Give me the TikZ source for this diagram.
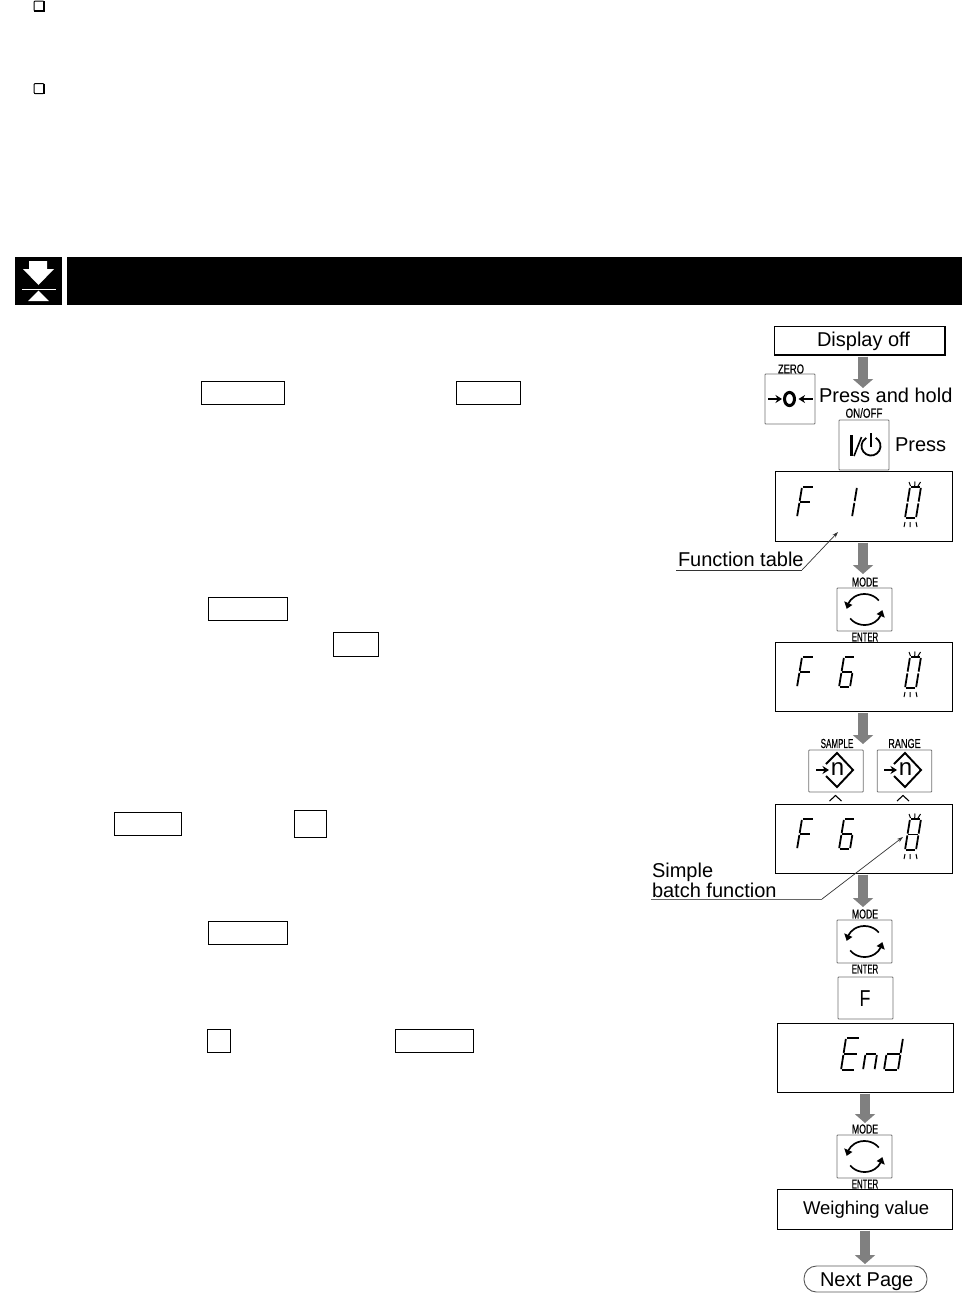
\documentclass[tikz,border=0pt]{standalone}
\usepackage{fontspec}
\setmainfont{Liberation Sans}
\newfontfamily\labfont[FakeBold=0.6]{Liberation Sans}
\usetikzlibrary{arrows.meta,calc,bending}
\tikzset{
  emptybox/.style={draw=black,line width=1pt,fill=white,inner sep=0pt,outer sep=0pt},
  dispbox/.style={draw=black,line width=1pt,fill=white,inner sep=0pt,outer sep=0pt,minimum width=177pt,minimum height=69pt},
  keybox/.style={draw=black!55,line width=.9pt,fill=white,rounded corners=.8pt,inner sep=0pt,outer sep=0pt},
  modekey/.style={keybox,minimum width=55pt,minimum height=43pt},
  nkey/.style={keybox,minimum width=54.5pt,minimum height=42pt},
  pwrkey/.style={keybox,minimum width=50pt,minimum height=50pt},
  chk/.style={draw=black,line width=1pt,fill=white,rounded corners=1pt,inner sep=0pt,outer sep=0pt,minimum width=10pt,minimum height=10pt},
  blackbar/.style={fill=black,inner sep=0pt,outer sep=0pt},
  ga/.style={draw=black!50,line width=10pt,-{Triangle[width=20pt,length=9pt,fill=black!50]},shorten <=1.5pt},
  seg/.style={draw=black,line width=1.8pt,shorten <=.9pt,shorten >=.9pt},
  tck/.style={draw=black,line width=1pt},
  leader/.style={draw=black!80,line width=.7pt},
  leadarrow/.style={leader,-{Stealth[length=6pt,width=4pt]}},
  txt/.style={font=\fontsize{20}{22}\selectfont,anchor=base west,inner sep=0pt,outer sep=0pt},
  lab/.style={font=\labfont\fontsize{13}{14}\selectfont,inner sep=0pt,outer sep=0pt,anchor=center},
  ico/.style={draw=black,line width=1.9pt},
  icoarr/.style={ico,-{Stealth[length=6.5pt,width=8pt]}},
  cyc/.style={draw=black,line width=1.7pt,-{Triangle[length=6pt,width=8.5pt,bend]}}
}
\newcommand\sevseg[5]{\begin{scope}[shift={(#1,#2)}]
  \coordinate (BL) at (0,0); \coordinate (BR) at (#3,0);
  \coordinate (ML) at (2.5,-#4/2); \coordinate (MR) at (#3+2.5,-#4/2);
  \coordinate (TL) at (5,-#4); \coordinate (TR) at (#3+5,-#4);
  \foreach \a/\b in #5 {\draw[seg] (\a) -- (\b);}
\end{scope}}
\newcommand\blink[2]{\begin{scope}[shift={(#1,#2)}]
  \draw[tck] (4,-36)--(5.5,-32) (10,-36.5)--(9.7,-32) (15.5,-36)--(13,-32);
  \draw[tck] (0,4)--(-1,9) (5,4)--(5,9) (11,4)--(12,9);
\end{scope}}
\def\segF{TL/TR,TL/ML,ML/MR,ML/BL}
\def\segO{TR/MR,MR/BR}
\def\segZ{TL/TR,TL/ML,TR/MR,ML/BL,MR/BR,BL/BR}
\def\segS{TL/TR,TL/ML,ML/MR,MR/BR,BL/BR,ML/BL}
\def\segE{TL/TR,TL/ML,TR/MR,ML/MR,ML/BL,MR/BR,BL/BR}
\def\segEE{TL/TR,TL/ML,ML/MR,ML/BL,BL/BR}
\def\segN{ML/MR,ML/BL,MR/BR}
\def\segD{TR/MR,ML/MR,ML/BL,MR/BR,BL/BR}
\newcommand\cycico[2]{\begin{scope}[shift={(#1,#2)}]
  \coordinate (cycA) at (14.3,-8.9);
  \coordinate (cycB) at (-14.3,8.9);
  \draw[cyc] (cycA) arc[start angle=35,end angle=178,x radius=17.5pt,y radius=15.5pt];
  \draw[cyc] (cycB) arc[start angle=215,end angle=358,x radius=17.5pt,y radius=15.5pt];
\end{scope}}
\newcommand\nico[3]{\begin{scope}[shift={(#1,#2)}]
  \draw[ico] (-11,-6)--(0,-17)--(16,0)--(0,17)--(-11,6);
  \draw[icoarr] (-21,0)--(-8,0);
  \node[font=\fontsize{24}{25}\selectfont,inner sep=0pt] (#3) at (.5,-1) {n};
\end{scope}}
\begin{document}
\begin{tikzpicture}[x=1pt,y=-1pt]
\useasboundingbox (0,0) rectangle (963,1296);
\fill[white] (0,0) rectangle (963,1296);

% check boxes
\node[chk] (c1) at (39,6) {};
\draw[line width=2pt] (c1.north east) -- (c1.south east) -- (c1.south west);
\node[chk] (c2) at (39,88.5) {};
\draw[line width=1.7pt] (c2.north east) -- (c2.south east) -- (c2.south west);

% header
\node[blackbar,minimum width=47pt,minimum height=48pt] (icon) at (38.5,281) {};
\node[blackbar,minimum width=895pt,minimum height=48pt] (bar) at (514.5,281) {};
\fill[white] (29,261)--(47,261)--(47,269)--(54,269)--(38.5,285)--(23,269)--(29,269)--cycle;
\draw[white,line width=1pt] (22,289)--(56,289);
\fill[white] (38.5,290.5)--(49,301)--(28,301)--cycle;

% empty text keys
\node[emptybox,minimum width=83pt,minimum height=23pt] (k1) at (242.8,392.8) {};
\node[emptybox,minimum width=64pt,minimum height=23pt] (k2) at (488.3,392.8) {};
\node[emptybox,minimum width=79pt,minimum height=23pt] (k3) at (247.8,608.8) {};
\node[emptybox,minimum width=45pt,minimum height=24pt] (k4) at (355.8,644.3) {};
\node[emptybox,minimum width=67pt,minimum height=23pt] (k5) at (147.8,823.8) {};
\node[emptybox,minimum width=32pt,minimum height=27pt] (k6) at (310.3,823.8) {};
\node[emptybox,minimum width=79pt,minimum height=23pt] (k7) at (247.8,932.8) {};
\node[emptybox,minimum width=23pt,minimum height=23pt] (k8) at (218.8,1040.8) {};
\node[emptybox,minimum width=78pt,minimum height=23pt] (k9) at (434.3,1040.8) {};

% flow boxes
\node[emptybox,minimum width=171pt,minimum height=29pt] (off) at (859.5,340.5) {};
\node[txt] (offt) at (817,346) {Display off};
\draw[line width=2.2pt] (off.north east) -- (off.south east) -- (off.south west);

\node[pwrkey] (zero) at (790,399) {};
\node[pwrkey] (onoff) at (864,445) {};
\node[dispbox,minimum height=70pt] (d1) at (863.5,506) {};
\node[modekey] (m1) at (864.5,609.5) {};
\node[dispbox] (d2) at (863.5,677) {};
\node[nkey] (s1) at (836,771) {};
\node[nkey] (s2) at (904.5,771) {};
\node[dispbox] (d3) at (863.5,838.5) {};
\node[modekey] (m2) at (864.5,941.5) {};
\node[keybox,minimum width=55pt,minimum height=42pt] (fk) at (865.5,998) {};
\node[dispbox,minimum width=176pt] (d4) at (865,1057.5) {};
\node[modekey] (m3) at (864.5,1156.5) {};
\node[emptybox,minimum width=175pt,minimum height=40pt] (wv) at (864.5,1209) {};
\node[draw=black!65,line width=.9pt,rounded corners=12.5pt,minimum width=123pt,minimum height=26pt,inner sep=0pt,outer sep=0pt] (np) at (865.5,1279) {};

% gray arrows
\coordinate (a1) at (863,388);
\coordinate (a2) at (863,574);
\coordinate (a3) at (863,744);
\coordinate (a4) at (863,907);
\coordinate (a5) at (865,1123);
\coordinate (a6) at (865,1264);
\draw[ga] (off.south -| a1) -- (a1);
\draw[ga] (d1.south -| a2) -- (a2);
\draw[ga] (d2.south -| a3) -- (a3);
\draw[ga] (d3.south -| a4) -- (a4);
\draw[ga] (d4.south -| a5) -- (a5);
\draw[ga] (wv.south -| a6) -- (a6);

% texts
\node[txt] (pah) at (819,402) {Press and hold};
\node[txt] (prs) at (895,451) {Press};
\node[txt] (ftt) at (678,566) {Function table};
\node[txt] (sbf1) at (652,877.5) {Simple};
\node[txt] (sbf2) at (652,897.5) {batch function};
\node[txt,font=\fontsize{18.5}{20}\selectfont] (wvt) at (803,1214) {Weighing value};
\node[txt] (npt) at (820,1286) {Next Page};
\node[font=\fontsize{23}{24}\selectfont,inner sep=0pt] (ft) at (865,998.5) {\scalebox{.78}[1]{F}};

% small labels
\node[lab] (lz) at (791,369) {\scalebox{.72}[1]{ZERO}};
\node[lab] (lo) at (864,413) {\scalebox{.75}[1]{ON/OFF}};
\node[lab] (lm1) at (865,582) {\scalebox{.67}[1]{MODE}};
\node[lab] (le1) at (865,637) {\scalebox{.6}[1]{ENTER}};
\node[lab] (ls) at (837,743.5) {\scalebox{.62}[1]{SAMPLE}};
\node[lab] (lr) at (904.5,743.5) {\scalebox{.7}[1]{RANGE}};
\node[lab] (lm2) at (865,914) {\scalebox{.67}[1]{MODE}};
\node[lab] (le2) at (865,969) {\scalebox{.6}[1]{ENTER}};
\node[lab] (lm3) at (865,1129) {\scalebox{.67}[1]{MODE}};
\node[lab] (le3) at (865,1184) {\scalebox{.6}[1]{ENTER}};

% key icons
\draw[icoarr] (768,399)--(782,399);
\draw[black,line width=3pt] (789.5,399) ellipse [x radius=5pt,y radius=6.6pt];
\draw[icoarr] (812.5,399)--(798.5,399);
\draw[black,line width=3pt] (851,435)--(851,456);
\draw[black,line width=1.6pt] (854,456)--(861.5,437);
\coordinate (pwrS) at (875.75,437.8);
\draw[black,line width=1.8pt] (pwrS) arc[start angle=60,end angle=-240,radius=9.5pt];
\draw[black,line width=1.6pt] (871,433)--(871,447);
\cycico{864.5}{609.5}
\cycico{864.5}{941.5}
\cycico{864.5}{1156.5}
\nico{837}{770}{ns1}
\nico{905}{770}{ns2}
\draw[black,line width=1.1pt] (829.5,801)--(835.5,795.5)--(841.5,801);
\draw[black,line width=1.1pt] (897,801)--(903,795.5)--(909,801);

% displays
\sevseg{797}{517}{11.5}{30}{\segF}
\sevseg{842}{517}{10}{30}{\segO}
\sevseg{905}{518}{11}{31}{\segZ}
\blink{905}{518}
\sevseg{797}{687}{11.5}{30}{\segF}
\sevseg{839}{687}{11}{30}{\segS}
\sevseg{905}{688}{11}{31}{\segZ}
\blink{905}{688}
\sevseg{797}{849}{11.5}{30}{\segF}
\sevseg{839}{849}{11}{30}{\segS}
\sevseg{905}{850}{11}{31}{\segE}
\blink{905}{850}
\sevseg{841}{1070}{14}{32}{\segEE}
\sevseg{863}{1070}{11.5}{32}{\segN}
\sevseg{884}{1070}{14}{32}{\segD}

% leaders
\coordinate (f0) at (676,570);
\coordinate (f1) at (802,570);
\coordinate (f2) at (838,532);
\draw[leader] (f0) -- (f1);
\draw[leadarrow] (f1) -- (f2);
\coordinate (g0) at (651,899);
\coordinate (g1) at (822,899);
\coordinate (g2) at (903,837);
\draw[leader,draw=black!60] (g0) -- (g1);
\draw[leadarrow] (g1) -- (g2);
\end{tikzpicture}
\end{document}
